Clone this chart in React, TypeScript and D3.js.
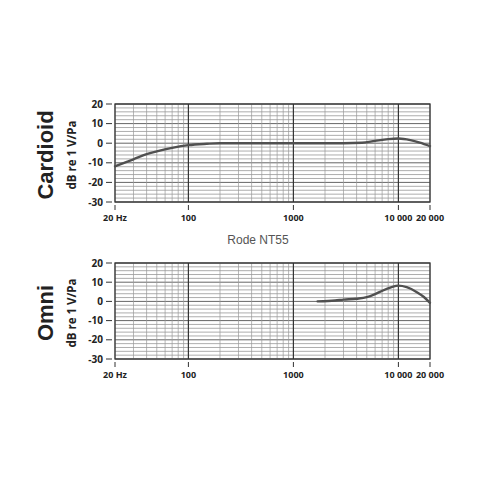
import React from "react";
import * as d3 from "d3";

const cardioidFreq = [20, 30, 40, 50, 70, 100, 150, 200, 500, 1000, 3000, 4500, 6000, 8000, 10000, 13000, 16000, 20000];
const cardioidDb = [-11.8, -8.2, -5.6, -4.2, -2.4, -1.0, -0.3, 0, 0, 0, 0, 0.2, 1.2, 2.1, 2.4, 1.6, 0.3, -1.5];

const omniFreq = [1700, 2500, 3000, 4000, 5000, 6000, 7000, 8500, 10000, 12000, 15000, 17500, 20000];
const omniDb = [0, 0.5, 0.9, 1.4, 2.2, 3.8, 5.5, 7.3, 8.2, 7.4, 4.8, 2.3, -0.8];

const yTicks = [20, 10, 0, -10, -20, -30];
const xTickValues = [20, 100, 1000, 10000, 20000];
const xTickLabels = ["20 Hz", "100", "1000", "10 000", "20 000"];

const titleCardioid = "Cardioid";
const titleOmni = "Omni";
const yAxisLabel = "dB re 1 V/Pa";
const middleLabel = "Rode NT55";

const minorFreqs: number[] = [];
[10, 100, 1000, 10000].forEach((dec) => {
  for (let m = 1; m <= 9; m++) {
    const f = dec * m;
    if (f >= 20 && f <= 20000) minorFreqs.push(f);
  }
});
const hGrid = d3.range(-30, 21, 2);

function Panel({ top, bottom, title, titleY, freqs, dbs }: any) {
  const x = d3.scaleLog().domain([20, 20000]).range([115, 430]);
  const y = d3.scaleLinear().domain([-30, 20]).range([bottom, top]);
  const line = d3
    .line<number>()
    .x((_, i) => x(freqs[i]))
    .y((d) => y(d))
    .curve(d3.curveMonotoneX);
  const tickFont = "'Open Sans', 'DejaVu Sans', sans-serif";
  return (
    <g>
      {hGrid.map((v) => (
        <line key={"h" + v} x1={115} x2={430} y1={y(v)} y2={y(v)} stroke={v % 10 === 0 ? "#555" : "#8a8a8a"} strokeWidth={v % 10 === 0 ? 0.9 : 0.7} />
      ))}
      {minorFreqs.map((f) => {
        const major = Math.abs(Math.log10(f) - Math.round(Math.log10(f))) < 1e-9;
        return (
          <line key={"v" + f} x1={x(f)} x2={x(f)} y1={top} y2={bottom} stroke={major ? "#333" : "#9a9a9a"} strokeWidth={major ? 1.2 : 0.7} />
        );
      })}
      <rect x={115} y={top} width={315} height={bottom - top} fill="none" stroke="#333" strokeWidth={1.3} />
      <path d={line(dbs) || ""} fill="none" stroke="#505050" strokeWidth={2.4} strokeLinecap="round" />
      {yTicks.map((v) => (
        <g key={"yt" + v}>
          <line x1={106} x2={112} y1={y(v)} y2={y(v)} stroke="#333" strokeWidth={1} />
          <text x={103} y={y(v)} dy="0.35em" textAnchor="end" fontSize={10} fontWeight="bold" fontFamily={tickFont} fill="#222">
            {v}
          </text>
        </g>
      ))}
      {xTickValues.map((v, i) => (
        <g key={"xt" + v}>
          <line x1={x(v)} x2={x(v)} y1={bottom + 3} y2={bottom + 8} stroke="#333" strokeWidth={1} />
          <text x={x(v)} y={bottom + 19} textAnchor="middle" fontSize={9} fontWeight="bold" fontFamily={tickFont} fill="#222">
            {xTickLabels[i]}
          </text>
        </g>
      ))}
      <text transform={`translate(53,${titleY}) rotate(-90)`} textAnchor="middle" fontSize={22} fontWeight="bold" fontFamily="'Liberation Sans', Arial, sans-serif" fill="#222">
        {title}
      </text>
      <text transform={`translate(76,${titleY}) rotate(-90)`} textAnchor="middle" fontSize={11.5} fontWeight="bold" fontFamily={tickFont} fill="#222">
        {yAxisLabel}
      </text>
    </g>
  );
}

export default function App() {
  return (
    <svg width={480} height={480} style={{ position: "absolute", left: 0, top: 0, background: "#fff" }}>
      <rect x={0} y={0} width={480} height={480} fill="#fff" />
      <Panel top={104} bottom={202} title={titleCardioid} titleY={155} freqs={cardioidFreq} dbs={cardioidDb} />
      <text x={258} y={244} textAnchor="middle" fontSize={12} fontFamily="'Liberation Sans', Arial, sans-serif" fill="#555">
        {middleLabel}
      </text>
      <Panel top={263} bottom={359} title={titleOmni} titleY={313} freqs={omniFreq} dbs={omniDb} />
    </svg>
  );
}
